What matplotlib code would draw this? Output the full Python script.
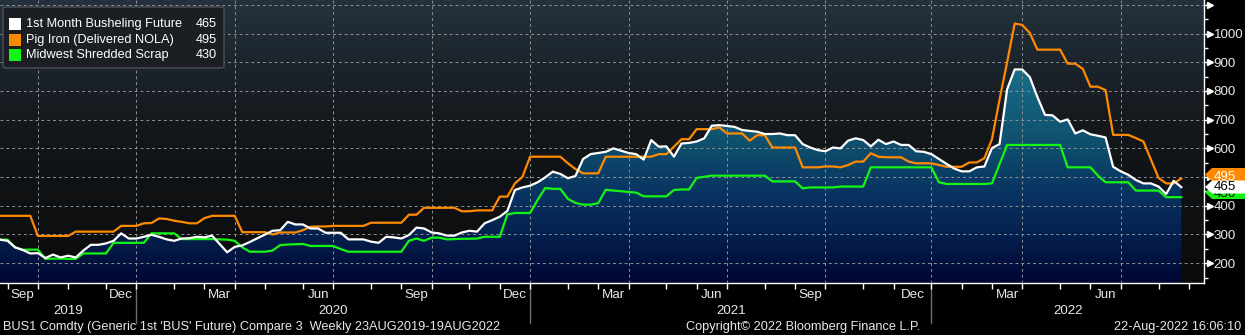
"""
Busheling future vs pig iron vs shredded scrap, weekly, Bloomberg style.
"""

import matplotlib

matplotlib.use("Agg")

import matplotlib.dates as mdates
import matplotlib.pyplot as plt
import matplotlib.transforms as mtransforms
import numpy as np
import pandas as pd
from matplotlib.colors import LinearSegmentedColormap
from matplotlib.patches import FancyBboxPatch, Polygon, Rectangle

W, H = 1245, 335

START = "2019-08-23"
NAMES = ["1st Month Busheling Future", "Pig Iron (Delivered NOLA)", "Midwest Shredded Scrap"]
LAST = [465, 495, 430]

busheling = [
    282, 278, 255, 246, 234, 235, 218, 230, 220, 226,
    220, 244, 264, 264, 269, 278, 304, 286, 286, 292,
    299, 292, 283, 278, 286, 287, 292, 290, 296, 267,
    238, 257, 262, 274, 287, 300, 313, 315, 344, 335,
    335, 321, 321, 306, 306, 306, 283, 283, 283, 275,
    271, 292, 290, 286, 298, 324, 321, 307, 304, 296,
    296, 307, 313, 310, 339, 350, 362, 382, 455, 464,
    470, 482, 499, 519, 511, 496, 504, 563, 580, 584,
    588, 600, 592, 584, 580, 561, 629, 606, 607, 571,
    617, 619, 624, 635, 679, 681, 678, 675, 664, 661,
    658, 650, 650, 652, 646, 646, 615, 603, 594, 590,
    603, 600, 627, 635, 629, 607, 630, 615, 624, 612,
    612, 590, 588, 580, 563, 546, 530, 520, 520, 534,
    537, 601, 615, 806, 875, 875, 848, 779, 717, 715,
    693, 701, 652, 663, 649, 644, 638, 536, 520, 508,
    490, 478, 478, 467, 441, 487, 465,
]

pig_iron = [
    365, 365, 365, 365, 365, 295, 295, 295, 295, 295,
    310, 310, 310, 310, 310, 310, 330, 330, 330, 339,
    340, 356, 354, 348, 344, 339, 339, 357, 365, 365,
    365, 365, 308, 308, 308, 308, 300, 307, 307, 307,
    315, 327, 328, 328, 330, 330, 330, 330, 330, 341,
    341, 341, 341, 341, 369, 369, 393, 393, 393, 393,
    393, 381, 381, 384, 384, 384, 432, 432, 478, 501,
    571, 571, 571, 571, 571, 548, 528, 513, 513, 513,
    571, 571, 571, 571, 571, 571, 571, 580, 580, 606,
    632, 632, 667, 667, 667, 673, 652, 652, 652, 627,
    646, 646, 603, 603, 603, 603, 534, 534, 534, 537,
    537, 534, 542, 554, 554, 583, 571, 569, 569, 569,
    554, 548, 548, 548, 542, 536, 536, 536, 551, 551,
    566, 632, 770, 900, 1035, 1030, 1002, 944, 944, 944,
    944, 895, 895, 877, 815, 815, 803, 647, 647, 647,
    636, 624, 560, 497, 478, 478, 495,
]

shredded = [
    282, 282, 255, 247, 247, 247, 215, 216, 216, 215,
    215, 234, 234, 234, 234, 271, 271, 271, 271, 271,
    304, 304, 304, 304, 284, 284, 284, 284, 284, 283,
    282, 278, 255, 240, 240, 240, 244, 263, 265, 266,
    267, 260, 260, 260, 260, 249, 240, 240, 240, 240,
    240, 240, 240, 240, 278, 286, 278, 289, 289, 283,
    284, 285, 285, 286, 292, 292, 292, 370, 375, 375,
    375, 420, 462, 459, 459, 424, 410, 404, 404, 409,
    456, 453, 451, 448, 446, 433, 433, 433, 433, 455,
    457, 457, 497, 501, 505, 505, 505, 505, 505, 505,
    505, 505, 485, 485, 485, 485, 461, 464, 464, 464,
    464, 467, 467, 467, 467, 534, 534, 534, 534, 534,
    534, 534, 534, 534, 482, 476, 476, 476, 476, 476,
    476, 478, 545, 612, 612, 612, 612, 612, 612, 612,
    612, 534, 534, 534, 534, 505, 482, 482, 482, 482,
    453, 453, 453, 453, 430, 430, 430,
]

Y_TICKS = [200, 300, 400, 500, 600, 700, 800, 900, 1000, 1100]
Y_MINOR = [150, 250, 350, 450, 550, 650, 750, 850, 950, 1050]
MONTH_LABELS = {3: "Mar", 6: "Jun", 9: "Sep", 12: "Dec"}
YEARS = [2019, 2020, 2021, 2022]

FOOTER_LEFT = "BUS1 Comdty (Generic 1st 'BUS' Future) Compare 3  Weekly 23AUG2019-19AUG2022"
FOOTER_MID = "Copyright\u00a9 2022 Bloomberg Finance L.P."
FOOTER_RIGHT = "22-Aug-2022 16:06:10"

WHITE = "#ffffff"
ORANGE = "#ff8a00"
GREEN = "#14f514"
TEXT = "#e8e8e8"
FS = 9.2


def fx(px):
    return px / W


def fy(py):
    return 1 - py / H


def main():
    plt.rcParams["font.family"] = ["Liberation Sans", "DejaVu Sans"]
    fig = plt.figure(figsize=(W / 100, H / 100), dpi=100, facecolor="black")
    ax = fig.add_axes([0, 52 / H, 1204 / W, 283 / H])
    ax.set_facecolor("black")

    dates = pd.date_range(START, periods=len(busheling), freq="7D")
    xd = mdates.date2num(dates)
    # weekly slots of the whole axis (the terminal snaps date marks to these)
    slots = mdates.date2num(pd.date_range(START, periods=160, freq="7D"))
    x0, x1 = slots[0], slots[0] + 159 * 7
    y0, y1 = 131, 1117

    def snap(day):
        d = mdates.date2num(pd.Timestamp(day))
        return slots[max(np.searchsorted(slots, d) - 1, 0)]

    # plot background: slate at top fading to black
    bg_cmap = LinearSegmentedColormap.from_list(
        "bg", [(0, "#0b0b0c"), (0.37, "#101315"), (0.58, "#15191d"), (0.78, "#1c252d"), (1, "#25323d")]
    )
    ax.imshow(np.linspace(0, 1, 400).reshape(-1, 1), origin="lower", extent=[x0, x1, y0, y1],
              aspect="auto", cmap=bg_cmap, zorder=0, interpolation="bilinear")

    # gradient area under the busheling line
    fill_cmap = LinearSegmentedColormap.from_list(
        "fill", [(0, "#020733"), (0.171, "#05204f"), (0.324, "#093562"), (0.476, "#0e4d6c"),
                 (0.678, "#156680"), (0.881, "#1b7893"), (1, "#1e8099")]
    )
    poly = Polygon(np.column_stack([np.r_[xd[0], xd, xd[-1]], np.r_[y0, busheling, y0]]),
                   closed=True, facecolor="none", edgecolor="none", transform=ax.transData)
    ax.add_patch(poly)
    im = ax.imshow(np.linspace(0, 1, 400).reshape(-1, 1), origin="lower", extent=[x0, x1, y0, y1],
                   aspect="auto", cmap=fill_cmap, zorder=1, interpolation="bilinear")
    im.set_clip_path(poly)

    ax.plot(xd, shredded, color=GREEN, lw=1.6, zorder=3)
    ax.plot(xd, pig_iron, color=ORANGE, lw=1.6, zorder=4)
    ax.plot(xd, busheling, color=WHITE, lw=1.6, zorder=5)

    ax.set_xlim(x0, x1)
    ax.set_ylim(y0, y1)

    for s in ["left", "top"]:
        ax.spines[s].set_visible(False)
    for s in ["bottom", "right"]:
        ax.spines[s].set_color("white")
        ax.spines[s].set_linewidth(1)

    quarters = [snap(q) for q in pd.date_range("2019-10-01", "2022-07-01", freq="QS")]
    months = [snap(m) for m in pd.date_range("2019-09-01", "2022-09-01", freq="MS")]
    ax.set_xticks(quarters)
    ax.set_xticks(months, minor=True)
    ax.tick_params(axis="x", which="both", direction="out", length=4, width=1,
                   color="white", labelbottom=False)

    ax.yaxis.tick_right()
    ax.set_yticks(Y_TICKS)
    ax.set_yticklabels([str(v) if v <= 1000 else "" for v in Y_TICKS])
    ax.set_yticks(Y_MINOR, minor=True)
    ax.tick_params(axis="y", which="major", length=4, width=1, color="white",
                   labelcolor=TEXT, labelsize=9.6, pad=3)
    ax.tick_params(axis="y", which="minor", length=3, width=1, color="white")

    ax.set_axisbelow(False)
    ax.grid(True, which="major", color="#8c9196", lw=0.7, ls=(0, (3, 3)))

    # arrow heads on the major y ticks
    blend_y = mtransforms.blended_transform_factory(ax.transAxes, ax.transData)
    arrow_tr = mtransforms.offset_copy(blend_y, fig=fig, x=6, y=0, units="dots")
    ax.plot([1.0] * len(Y_TICKS), Y_TICKS, ls="none", marker=">", ms=4, color="white",
            mec="white", transform=arrow_tr, clip_on=False, zorder=6)

    # month / year labels under the axis
    blend_x = mtransforms.blended_transform_factory(ax.transData, fig.transFigure)
    for m in pd.date_range("2019-09-01", "2022-06-01", freq="MS"):
        if m.month in MONTH_LABELS:
            cx = (snap(m) + snap(m + pd.offsets.MonthBegin(1))) / 2
            ax.text(cx, fy(295), MONTH_LABELS[m.month], transform=blend_x, ha="center",
                    va="center", color=TEXT, fontsize=9.6)
    for yr in YEARS:
        a = max(x0, snap(f"{yr}-01-01"))
        b = min(x1, snap(f"{yr + 1}-01-01")) if yr < YEARS[-1] else x1
        ax.text((a + b) / 2, fy(311), str(yr), transform=blend_x, ha="center",
                va="center", color=TEXT, fontsize=9.6)
        if yr > YEARS[0]:
            ax.plot([a, a], [fy(286), fy(323)], color="#6e6e6e", lw=1, transform=blend_x,
                    clip_on=False)

    fig.text(fx(3), fy(327), FOOTER_LEFT, ha="left", va="center", color=TEXT, fontsize=FS)
    fig.text(fx(686), fy(327), FOOTER_MID, ha="left", va="center", color=TEXT, fontsize=FS)
    fig.text(fx(1241), fy(327), FOOTER_RIGHT, ha="right", va="center", color=TEXT, fontsize=FS)

    # legend box
    box = FancyBboxPatch((fx(3), fy(68)), fx(221), 61 / H, boxstyle="round,pad=0,rounding_size=0.004",
                         transform=fig.transFigure, facecolor="#1b1f23", edgecolor="#4b5056",
                         lw=1, zorder=10)
    fig.add_artist(box)
    for name, val, col, ry in zip(NAMES, LAST, [WHITE, ORANGE, GREEN], [24, 40, 55]):
        fig.add_artist(Rectangle((fx(9), fy(ry + 6)), fx(12), 12 / H, transform=fig.transFigure,
                                 facecolor=col, edgecolor="none", zorder=11))
        fig.text(fx(26), fy(ry), name, ha="left", va="center", color=WHITE, fontsize=FS, zorder=12)
        fig.text(fx(217), fy(ry), str(val), ha="right", va="center", color=WHITE, fontsize=FS,
                 zorder=12)

    # last-value tags on the right axis, stacked like the terminal draws them
    def tag(cy, ty, face, txt, tcol, z):
        h = 13
        pts = [(1205, cy), (1212, cy - h / 2), (1245, cy - h / 2), (1245, cy + h / 2), (1212, cy + h / 2)]
        fig.add_artist(Polygon([(fx(px), fy(py)) for px, py in pts], closed=True,
                               transform=fig.transFigure, facecolor=face, edgecolor="none", zorder=z))
        fig.text(fx(1214), fy(ty), txt, ha="left", va="center", color=tcol, fontsize=9.6,
                 zorder=z + 1)

    tag(174.5, 177, ORANGE, "495", WHITE, 20)
    tag(192.5, 194, GREEN, "430", "#0a0a0a", 22)
    tag(187, 187, WHITE, "465", "#000000", 24)

    fig.savefig("out.png", dpi=100, facecolor="black")
    plt.close(fig)


if __name__ == "__main__":
    main()
